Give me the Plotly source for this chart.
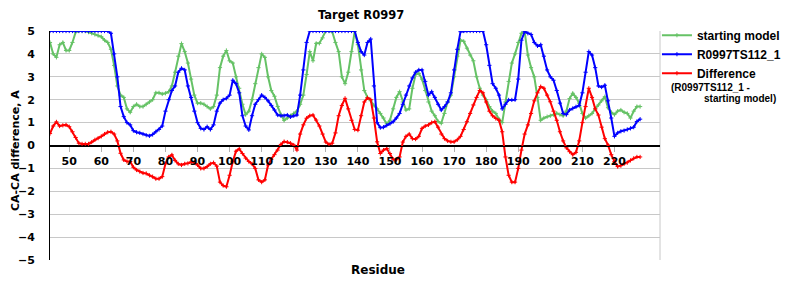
import plotly.graph_objects as go

residues = list(range(44, 229))

starting_model = [
    4.5, 4.0, 3.85, 4.4, 4.5, 4.15, 4.15, 4.5, 4.95, 5.0,
    5.0, 5.0, 4.95, 4.9, 4.85, 4.8, 4.75, 4.6, 4.5, 4.2,
    3.5, 2.6, 2.2, 2.1, 1.6, 1.45, 1.7, 1.8, 1.7, 1.7,
    1.8, 1.9, 2.0, 2.3, 2.3, 2.25, 2.28, 2.35, 2.6, 3.2,
    3.9, 4.45, 4.1, 3.6, 2.9, 2.2, 1.85, 1.85, 1.8, 1.7,
    1.6, 1.7, 2.2, 3.4, 3.9, 4.15, 3.7, 3.6, 3.0, 2.5,
    1.8, 1.35, 1.5, 2.0, 2.7, 3.4, 4.0, 3.85, 3.0, 2.4,
    2.15, 1.7, 1.35, 1.1, 1.2, 1.3, 1.4, 1.5, 1.8, 2.2,
    3.1, 4.1, 3.7, 4.46, 4.46, 4.7, 5.0, 5.0, 4.97, 4.5,
    4.1, 3.0, 2.7, 3.2, 4.1, 4.97, 4.4, 3.3, 2.4, 2.1,
    1.95, 1.75, 1.6, 1.4, 1.2, 0.95, 1.1, 1.6, 2.1, 2.35,
    1.9, 1.55, 1.6, 2.5, 3.1, 3.15, 2.9, 2.4, 1.9, 1.5,
    1.3, 1.05, 0.97, 1.4, 1.9, 2.2, 3.0, 3.9, 4.6, 4.55,
    4.25, 3.95, 3.7, 3.0, 2.5, 2.2, 2.0, 1.7, 1.5, 1.4,
    1.15, 1.0, 1.9, 2.8, 3.6, 4.0, 4.5, 4.9, 4.97, 3.95,
    3.4, 3.0, 2.1, 1.1, 1.2, 1.26, 1.3, 1.35, 1.41, 1.35,
    1.3, 1.5, 2.05, 2.28, 2.1, 1.85, 1.4, 1.2, 1.3, 1.4,
    1.6, 1.77, 1.95, 2.13, 1.65, 1.45, 1.35, 1.5, 1.55, 1.45,
    1.4, 1.2, 1.5, 1.7, 1.7,
]

model_ts112 = [
    5.0, 5.0, 5.0, 5.0, 5.0, 5.0, 5.0, 5.0, 5.0, 5.0,
    5.0, 5.0, 5.0, 5.0, 5.0, 5.0, 5.0, 5.0, 5.0, 4.9,
    4.0, 3.0, 1.7, 1.26, 1.0, 0.9, 0.65, 0.58, 0.55, 0.5,
    0.45, 0.42, 0.48, 0.6, 0.7, 0.85, 1.5, 2.0, 2.4, 2.6,
    3.2, 3.37, 3.3, 2.6, 2.1, 1.5, 1.0, 0.75, 0.7, 0.82,
    0.7, 0.9, 1.5, 1.85, 2.0, 2.06, 2.2, 2.85, 2.7, 2.3,
    1.3, 0.85, 0.68, 1.3, 1.8, 2.0, 2.2, 2.1, 1.95, 1.75,
    1.55, 1.33, 1.3, 1.3, 1.33, 1.25, 1.3, 1.33, 2.2, 3.3,
    4.5, 5.0, 5.0, 5.0, 5.0, 5.0, 5.0, 5.0, 5.0, 5.0,
    5.0, 5.0, 5.0, 5.0, 5.0, 5.0, 4.5, 4.1, 3.95, 4.5,
    4.65, 2.6, 1.0, 0.78, 0.8, 0.88, 0.95, 1.04, 1.2, 1.4,
    1.8, 2.2, 2.6, 2.95, 3.2, 3.3, 3.3, 2.8, 2.2, 2.35,
    2.1, 1.8, 1.55, 1.7, 1.9, 2.3, 3.3, 4.2, 4.97, 5.0,
    5.0, 5.0, 5.0, 5.0, 5.0, 5.0, 4.4, 3.5, 2.7, 2.5,
    2.2, 1.6, 1.8, 1.99, 1.99, 2.0, 2.9, 4.6, 4.97, 4.9,
    4.85, 4.5, 4.35, 4.4, 3.9, 3.3, 3.0, 2.85, 2.4, 1.85,
    1.4, 1.35, 1.55, 1.62, 1.69, 1.75, 2.3, 3.2, 4.1, 3.95,
    3.4, 2.6, 2.55, 2.63, 1.95, 1.2, 0.4, 0.55, 0.62, 0.65,
    0.7, 0.75, 0.8, 1.05, 1.15,
]

difference = [
    0.52, 0.85, 1.03, 0.85, 0.88, 0.9, 0.82, 0.6, 0.35, 0.1,
    0.07, 0.07, 0.07, 0.15, 0.25, 0.32, 0.4, 0.5, 0.58, 0.6,
    0.5, 0.2, -0.34, -0.63, -0.7, -0.7, -0.95, -1.07, -1.14, -1.2,
    -1.22, -1.3, -1.36, -1.45, -1.45, -1.36, -0.8, -0.5, -0.41, -0.65,
    -0.8, -0.85, -0.8, -0.78, -0.72, -0.75, -0.85, -1.0, -1.0, -0.92,
    -0.8, -0.75, -0.9, -1.6, -1.75, -1.8, -1.3, -0.7, -0.25, -0.15,
    -0.35, -0.55, -0.7, -0.8, -1.0, -1.5, -1.6, -1.5, -0.85, -0.6,
    -0.4, -0.2, 0.05, 0.17, 0.15, 0.1, 0.02, -0.2, 0.5, 0.9,
    1.19, 1.3, 1.33, 1.11, 0.85, 0.5, 0.15, 0.05, 0.1, 0.55,
    1.3, 1.75, 2.06, 1.6, 1.1, 0.7, 0.67, 1.3, 1.9, 2.08,
    2.0, 1.2, 0.16, -0.35, -0.2, -0.13, -0.35, -0.6, -0.62, -0.5,
    0.15, 0.4, 0.5, 0.3, 0.28, 0.4, 0.75, 0.85, 0.9, 1.0,
    1.04, 0.8, 0.5, 0.3, 0.2, 0.16, 0.16, 0.25, 0.4, 0.7,
    1.04, 1.4, 1.77, 2.1, 2.4, 2.3, 1.9, 1.5, 1.3, 1.18,
    1.1, 0.6, -0.5, -1.3, -1.6, -1.6, -1.0, -0.2, 0.5, 0.9,
    1.4, 1.95, 2.3, 2.57, 2.5, 2.2, 1.91, 1.5, 1.1, 0.6,
    0.2, -0.1, -0.27, -0.4, -0.3, 0.2, 1.0, 1.7, 2.5, 2.1,
    1.6, 1.33, 0.8, 0.3, 0.02, -0.4, -0.7, -0.92, -0.88, -0.8,
    -0.75, -0.65, -0.56, -0.5, -0.5,
]

x_tick_values = [50, 60, 70, 80, 90, 100, 110, 120, 130, 140, 150, 160, 170, 180, 190, 200, 210, 220]
y_tick_values = [-5, -4, -3, -2, -1, 0, 1, 2, 3, 4, 5]

GREEN = "#66c266"
BLUE = "#0000ff"
RED = "#ff0000"
SANS = "Liberation Sans"
DEJAVU = "DejaVu Sans"

fig = go.Figure()
for name, vals, col in [
    ("starting model", starting_model, GREEN),
    ("R0997TS112_1", model_ts112, BLUE),
    ("Difference", difference, RED),
]:
    fig.add_trace(go.Scatter(
        x=residues, y=vals, name=name, mode="lines+markers",
        line=dict(color=col, width=2),
        marker=dict(symbol="cross-thin", size=3, color=col,
                    line=dict(color=col, width=1)),
    ))

fig.update_layout(
    width=800, height=300,
    margin=dict(l=50, r=140, t=31, b=40),
    paper_bgcolor="white", plot_bgcolor="white",
    title=dict(text="Target R0997", x=0.51, xref="paper", xanchor="center",
               y=0.95, yanchor="middle",
               font=dict(family=DEJAVU, size=11.5, color="black", weight="bold")),
    legend=dict(x=0.995, xanchor="left", y=1.045, yanchor="top",
                font=dict(family=SANS, size=12, color="black", weight="bold"),
                bgcolor="rgba(0,0,0,0)", borderwidth=0, tracegroupgap=0),
    xaxis=dict(range=[44, 234.2], anchor="free", position=0.5,
               showgrid=False, zeroline=False,
               showline=True, linecolor="black", linewidth=1,
               ticks="outside", ticklen=5, tickcolor="#b0b0b0", tickwidth=1,
               tickvals=x_tick_values,
               tickfont=dict(family=DEJAVU, size=11, color="black", weight="bold")),
    yaxis=dict(range=[-5, 5], tickvals=y_tick_values,
               showgrid=True, gridcolor="#c8c8c8", gridwidth=1,
               zeroline=True, zerolinecolor="black", zerolinewidth=1,
               showline=True, linecolor="black", linewidth=1,
               ticks="", ticklabelstandoff=12,
               tickfont=dict(family=DEJAVU, size=11, color="black", weight="bold")),
)

fig.add_shape(type="line", xref="paper", yref="paper", x0=1, x1=1, y0=0, y1=1,
              line=dict(color="#c8c8c8", width=1), layer="below")

fig.add_annotation(text="CA-CA difference, A", xref="paper", yref="paper",
                   x=-0.0574, y=0.48, textangle=-90, showarrow=False,
                   xanchor="center", yanchor="middle",
                   font=dict(family=DEJAVU, size=11, color="black", weight="bold"))
fig.add_annotation(text="Residue", xref="paper", yref="paper",
                   x=0.538, y=-0.0437, showarrow=False,
                   xanchor="center", yanchor="middle",
                   font=dict(family=DEJAVU, size=12, color="black", weight="bold"))
fig.add_annotation(text="(R0997TS112_1 -", xref="paper", yref="paper",
                   x=1.0148, y=0.755, showarrow=False,
                   xanchor="left", yanchor="middle",
                   font=dict(family=SANS, size=10, color="black", weight="bold"))
fig.add_annotation(text="starting model)", xref="paper", yref="paper",
                   x=1.0689, y=0.705, showarrow=False,
                   xanchor="left", yanchor="middle",
                   font=dict(family=SANS, size=10, color="black", weight="bold"))

fig.write_html("out.html")
